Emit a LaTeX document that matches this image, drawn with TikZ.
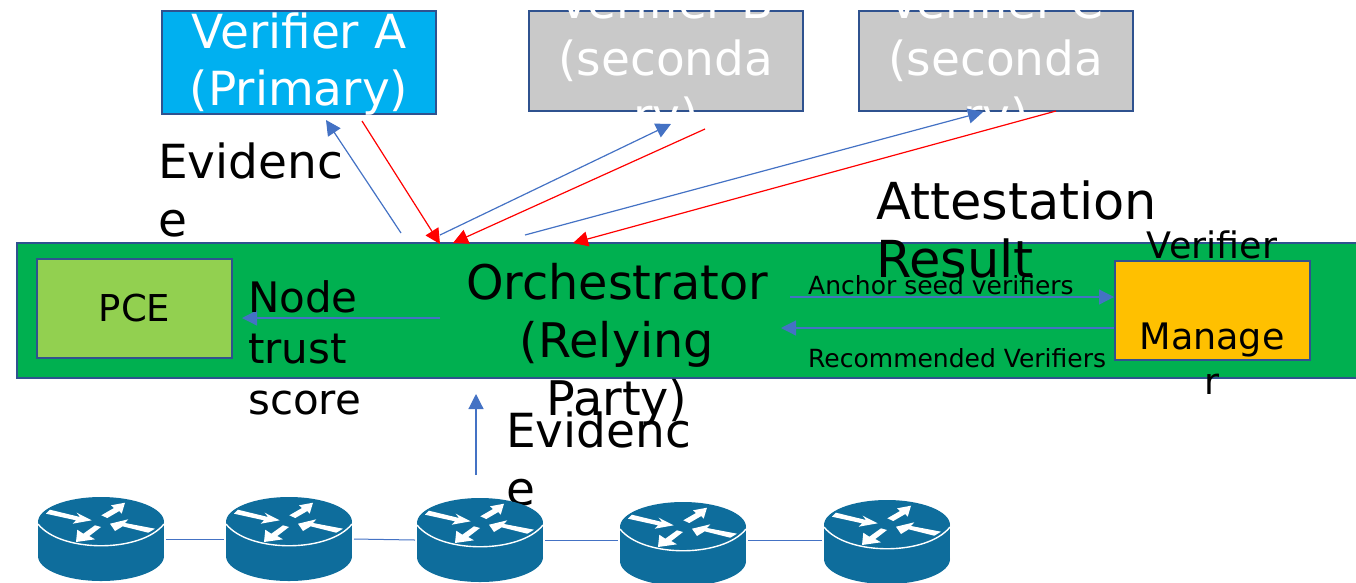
\documentclass[tikz,border=0pt]{standalone}
\usepackage{fontspec}
\setmainfont{DejaVu Sans}
\usetikzlibrary{arrows.meta}
\definecolor{edgeblue}{HTML}{2F528F}
\definecolor{linkblue}{HTML}{4472C4}
\definecolor{routerblue}{HTML}{0E6D9C}
\tikzset{
	box/.style={draw=edgeblue, line width=2pt, inner sep=0pt, minimum width=#1},
	bluelink/.style={draw=linkblue, line width=1.2pt, -{Triangle[length=15pt,width=15pt]}},
	redlink/.style={draw=red, line width=1.2pt, -{Triangle[length=15pt,width=15pt]}},
	wirelink/.style={draw=linkblue, line width=1pt},
	whitetext/.style={text=white, align=center, inner sep=0pt, font=\fontsize{47}{57}\selectfont},
	bigtext/.style={align=left, inner sep=0pt, font=\fontsize{47}{58}\selectfont},
	smalltext/.style={inner sep=0pt, font=\fontsize{25}{30}\selectfont},
	routernode/.style={minimum width=126pt, minimum height=84pt, inner sep=0pt, outer sep=2pt},
	router/.pic={
		\fill[routerblue] (-63,-17) rectangle (63,17);
		\fill[routerblue] (0,-17) ellipse (63pt and 25pt);
		\fill[routerblue] (0,17) ellipse (63pt and 25pt);
		\draw[white, line width=1.4pt] (-63,-15) .. controls (-40,14) and (40,14) .. (63,-15);
		\begin{scope}[shift={(-63,-42)}]
			\fill[white] (12,12.7) -- (42,20) -- (38.7,15.7) -- (53.7,23.3) -- (34.7,26.7) -- (38,23.3) -- (8,16.7) -- cycle;
			\fill[white] (87,5.7) -- (73,8.3) -- (76,11) -- (63.3,18.3) -- (69.3,21) -- (81.3,14) -- (83.7,16.7) -- cycle;
			\fill[white] (72,26.7) -- (90.3,22.3) -- (87,26) -- (117,31.7) -- (110.3,35.7) -- (84.7,29.3) -- (77,34) -- cycle;
			\fill[white] (38,45) -- (57,42.3) -- (51.3,39) -- (63,30) -- (57,28.3) -- (45.3,36.7) -- (39.3,32.7) -- cycle;
		\end{scope}
	}
}

\begin{document}
\begin{tikzpicture}[x=1pt, y=-1pt]
	\useasboundingbox (0,0) rectangle (1356,582);

	%%%%% boxes %%%%%
	\node[box=274pt, minimum height=103pt, fill={rgb,255:red,0;green,176;blue,240}] (verifierA) at (299,62.5) {};
	\node[box=274pt, minimum height=100pt, fill={rgb,255:red,201;green,201;blue,201}] (verifierB) at (666,61) {};
	\node[box=274pt, minimum height=100pt, fill={rgb,255:red,201;green,201;blue,201}] (verifierC) at (996,61) {};
	\node[whitetext] (textA) at (299,64.5) {Verifier A\\(Primary)};
	\node[whitetext] (textB) at (666,63) {Verifier B\\(seconda\\ry)};
	\node[whitetext] (textC) at (996,63) {Verifier C\\(seconda\\ry)};

	\node[box=1345pt, minimum height=135pt, fill={rgb,255:red,0;green,176;blue,80}] (band) at (689.5,310.5) {};
	\node[box=195pt, minimum height=99pt, fill={rgb,255:red,146;green,208;blue,80}] (pce) at (134.5,308.5) {};
	\node[box=195pt, minimum height=99pt, fill={rgb,255:red,255;green,192;blue,0}] (manager) at (1212.5,310.5) {};

	%%%%% free ends %%%%%
	\coordinate (evidA) at (401,233);
	\coordinate (headA) at (326,120);
	\coordinate (backA) at (362,121);
	\coordinate (tipA) at (440,244);
	\coordinate (evidB) at (440,235);
	\coordinate (headB) at (671,124);
	\coordinate (backB) at (705,129);
	\coordinate (tipB) at (453,243);
	\coordinate (evidC) at (525,235);
	\coordinate (headC) at (983,112);
	\coordinate (backC) at (1056,111);
	\coordinate (tipC) at (573,243);
	\coordinate (orchL) at (440,318);
	\coordinate (tipP) at (242,318);
	\coordinate (seedL) at (790,297);
	\coordinate (recL) at (781,328);
	\coordinate (upS) at (476,475);
	\coordinate (upE) at (476,394);

	\draw[bluelink] (evidA) -- (headA);
	\draw[redlink] (backA) -- (tipA);
	\draw[bluelink] (evidB) -- (headB);
	\draw[redlink] (backB) -- (tipB);
	\draw[bluelink] (evidC) -- (headC);
	\draw[redlink] (backC) -- (tipC);
	\draw[bluelink] (orchL) -- (tipP);
	\draw[bluelink] (seedL) -- (seedL -| manager.west);
	\draw[bluelink] (recL -| manager.west) -- (recL);
	\draw[bluelink] (upS) -- (upE);

	%%%%% labels %%%%%
	\node[font=\fontsize{37}{45}\selectfont, inner sep=0pt] (pcetext) at (pce) {PCE};
	\node[font=\fontsize{36.5}{45.3}\selectfont, align=center, inner sep=0pt] (managertext) at (1212,313) {Verifier\ \\ ~\\Manage\\r};
	\node[bigtext, align=center, font=\fontsize{47.7}{58}\selectfont] (orchestrator) at (617,344) {Orchestrator\\(Relying\\Party)};
	\node[bigtext, anchor=west] (evidtop) at (158,190) {Evidenc\\e};
	\node[bigtext, anchor=west] (evidlow) at (506,459) {Evidenc\\e};
	\node[bigtext, anchor=west, font=\fontsize{51}{58}\selectfont] (attest) at (876,229) {Attestation\\Result};
	\node[bigtext, anchor=west, font=\fontsize{42}{51}\selectfont] (trust) at (248,348) {Node\\trust\\score};
	\node[smalltext, anchor=west] (seedtext) at (808,285) {Anchor seed verifiers};
	\node[smalltext, anchor=west] (rectext) at (808,358) {Recommended Verifiers};

	%%%%% routers %%%%%
	\foreach \name/\cx/\cy in {rtrA/101/539, rtrB/289/539, rtrC/480/540, rtrD/683/544, rtrE/887/542}{
		\node[routernode] (\name) at (\cx,\cy) {};
		\pic at (\name) {router};
	}
	\draw[wirelink] (rtrA.east) -- (rtrB.west);
	\draw[wirelink] (rtrB.east) -- (rtrC.west);
	\draw[wirelink] (rtrC.east) -- (rtrC.east -| rtrD.west);
	\draw[wirelink] (rtrC.east -| rtrD.east) -- (rtrC.east -| rtrE.west);
\end{tikzpicture}
\end{document}
